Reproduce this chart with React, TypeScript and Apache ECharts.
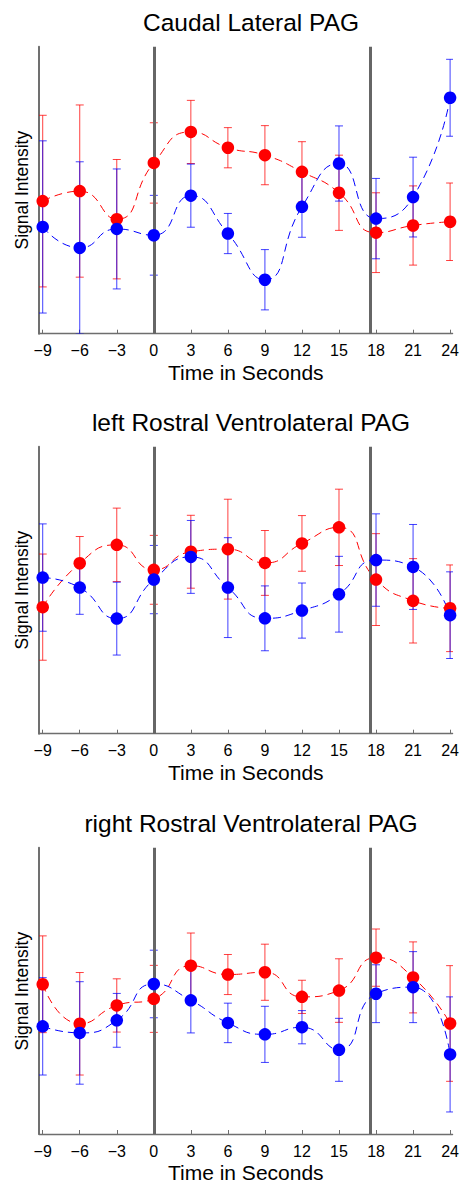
import React, { useEffect, useRef } from "react";
import * as echarts from "echarts";

const TIMES = [-9, -6, -3, 0, 3, 6, 9, 12, 15, 18, 21, 24];
const TICK_VALUES = [-9, -6, -3, 0, 3, 6, 9, 12, 15, 18, 21, 24];
const EVENTS = [0, 17.5];

const TITLES = [
  "Caudal Lateral PAG",
  "left Rostral Ventrolateral PAG",
  "right Rostral Ventrolateral PAG",
];

const caudalRed = [46.2, 49.7, 39.9, 59.5, 70.3, 64.8, 62.2, 56.4, 49.1, 35.2, 37.7, 39.0];
const caudalRedErr = [29.9, 30.0, 20.8, 14.0, 11.0, 7.0, 10.3, 10.5, 13.1, 13.9, 13.8, 13.5];
const caudalBlue = [37.2, 29.9, 36.5, 34.3, 48.1, 34.9, 18.8, 44.2, 59.3, 40.1, 47.6, 82.2];
const caudalBlueErr = [30.0, 30.0, 20.9, 13.9, 11.0, 7.0, 10.5, 10.6, 13.1, 14.0, 13.9, 13.4];

const leftRed = [44.1, 59.4, 65.8, 57.1, 63.4, 64.3, 59.5, 66.3, 71.9, 53.7, 46.3, 43.7];
const leftRedErr = [18.5, 9.3, 12.8, 12.0, 12.7, 17.4, 11.3, 9.7, 13.3, 16.0, 14.7, 15.1];
const leftBlue = [54.4, 50.9, 40.1, 53.7, 61.6, 50.9, 40.2, 42.9, 48.6, 60.5, 58.1, 41.3];
const leftBlueErr = [18.7, 9.3, 12.7, 11.9, 12.7, 17.4, 11.3, 9.6, 13.2, 16.1, 14.8, 15.1];

const rightRed = [52.3, 38.5, 44.9, 47.2, 58.8, 55.7, 56.5, 47.9, 50.1, 61.6, 54.7, 38.6];
const rightRedErr = [16.9, 17.9, 9.3, 11.7, 11.4, 7.0, 9.8, 5.8, 11.1, 10.0, 12.4, 20.2];
const rightBlue = [37.6, 35.3, 39.7, 52.4, 46.7, 38.8, 34.8, 37.3, 29.4, 49.0, 51.3, 27.8];
const rightBlueErr = [17.0, 17.9, 9.4, 11.8, 11.4, 6.9, 9.8, 5.8, 11.0, 10.1, 12.4, 20.1];

const PANELS = [
  { red: caudalRed, redErr: caudalRedErr, blue: caudalBlue, blueErr: caudalBlueErr },
  { red: leftRed, redErr: leftRedErr, blue: leftBlue, blueErr: leftBlueErr },
  { red: rightRed, redErr: rightRedErr, blue: rightBlue, blueErr: rightBlueErr },
];

const RED = "#ff0000";
const BLUE = "#0000ff";
const GRAY = "#666666";
const FONT = "Liberation Sans, Arial, Helvetica, sans-serif";

const PANEL_TOPS = [46.7, 446.7, 847.7];
const GRID_LEFT = 39;
const GRID_WIDTH = 415.4;
const GRID_HEIGHT = 287;

function errRender(color: string) {
  return (params: any, api: any) => {
    const x = api.value(0);
    const lo = api.value(1);
    const hi = api.value(2);
    const p1 = api.coord([x, hi]);
    const p2 = api.coord([x, lo]);
    const hw = 4;
    const style = { stroke: color, lineWidth: 1, opacity: 0.75 };
    return {
      type: "group",
      children: [
        { type: "line", shape: { x1: p1[0], y1: p1[1], x2: p2[0], y2: p2[1] }, style },
        { type: "line", shape: { x1: p1[0] - hw, y1: p1[1], x2: p1[0] + hw, y2: p1[1] }, style },
        { type: "line", shape: { x1: p2[0] - hw, y1: p2[1], x2: p2[0] + hw, y2: p2[1] }, style },
      ],
    };
  };
}

export default function App() {
  const ref = useRef<HTMLDivElement>(null);
  useEffect(() => {
    if (!ref.current) return;
    const chart = echarts.init(ref.current, null, { renderer: "svg" });
    const grids: any[] = [];
    const xAxes: any[] = [];
    const yAxes: any[] = [];
    const series: any[] = [];
    const graphics: any[] = [];

    PANELS.forEach((p, i) => {
      const top = PANEL_TOPS[i];
      grids.push({ left: GRID_LEFT, top, width: GRID_WIDTH, height: GRID_HEIGHT });
      xAxes.push({
        type: "value",
        gridIndex: i,
        min: -9.3,
        max: 24.2,
        name: "Time in Seconds",
        nameLocation: "middle",
        nameGap: 28,
        nameTextStyle: { fontFamily: FONT, fontSize: 21, color: "#000" },
        axisLine: { show: true, onZero: false, lineStyle: { color: "#6e6e6e", width: 1.3 } },
        axisTick: {
          show: true,
          inside: true,
          length: 4,
          customValues: TICK_VALUES,
          lineStyle: { color: "#6e6e6e", width: 1 },
        },
        axisLabel: {
          show: true,
          customValues: TICK_VALUES,
          margin: 9,
          fontFamily: FONT,
          fontSize: 16,
          color: "#000",
          formatter: (v: number) => String(v).replace("-", "\u2212"),
        },
        splitLine: { show: false },
      });
      yAxes.push({
        type: "value",
        gridIndex: i,
        min: 0,
        max: 100,
        axisLine: { show: true, onZero: false, lineStyle: { color: "#707070", width: 2 } },
        axisTick: { show: false },
        axisLabel: { show: false },
        splitLine: { show: false },
      });

      series.push({
        type: "line",
        xAxisIndex: i,
        yAxisIndex: i,
        data: [],
        z: 1,
        silent: true,
        markLine: {
          silent: true,
          symbol: "none",
          label: { show: false },
          lineStyle: { color: GRAY, width: 3, type: "solid" },
          data: EVENTS.map((e) => ({ xAxis: e })),
        },
      });

      const groups = [
        { vals: p.red, errs: p.redErr, color: RED },
        { vals: p.blue, errs: p.blueErr, color: BLUE },
      ];
      groups.forEach((g, k) => {
        series.push({
          type: "custom",
          xAxisIndex: i,
          yAxisIndex: i,
          z: 2 + k,
          clip: true,
          silent: true,
          renderItem: errRender(g.color),
          encode: { x: 0, y: [1, 2] },
          data: TIMES.map((t, j) => [t, g.vals[j] - g.errs[j], g.vals[j] + g.errs[j]]),
        });
      });
      groups.forEach((g, k) => {
        series.push({
          type: "line",
          xAxisIndex: i,
          yAxisIndex: i,
          z: 4 + k,
          smooth: 0.55,
          symbol: "none",
          silent: true,
          lineStyle: { color: g.color, width: 1, type: [8, 5] },
          data: TIMES.map((t, j) => [t, g.vals[j]]),
        });
      });
      groups.forEach((g, k) => {
        series.push({
          type: "scatter",
          xAxisIndex: i,
          yAxisIndex: i,
          z: 6 + k,
          symbol: "circle",
          symbolSize: 12.5,
          silent: true,
          itemStyle: { color: g.color, opacity: 1 },
          data: TIMES.map((t, j) => [t, g.vals[j]]),
        });
      });

      graphics.push({
        type: "text",
        x: 251,
        y: top - 24.5,
        style: {
          text: TITLES[i],
          fontFamily: FONT,
          fontSize: 24.5,
          fill: "#000",
          textAlign: "center",
          textVerticalAlign: "middle",
        },
      });
      graphics.push({
        type: "text",
        x: 21.5,
        y: top + GRID_HEIGHT / 2,
        rotation: Math.PI / 2,
        style: {
          text: "Signal Intensity",
          fontFamily: FONT,
          fontSize: 17.5,
          fill: "#000",
          textAlign: "center",
          textVerticalAlign: "middle",
        },
      });
    });

    chart.setOption({
      animation: false,
      backgroundColor: "#ffffff",
      grid: grids,
      xAxis: xAxes,
      yAxis: yAxes,
      series,
      graphic: graphics,
    });
    return () => chart.dispose();
  }, []);
  return (
    <div
      ref={ref}
      style={{ position: "fixed", left: 0, top: 0, width: 462, height: 1184, background: "#fff" }}
    />
  );
}
